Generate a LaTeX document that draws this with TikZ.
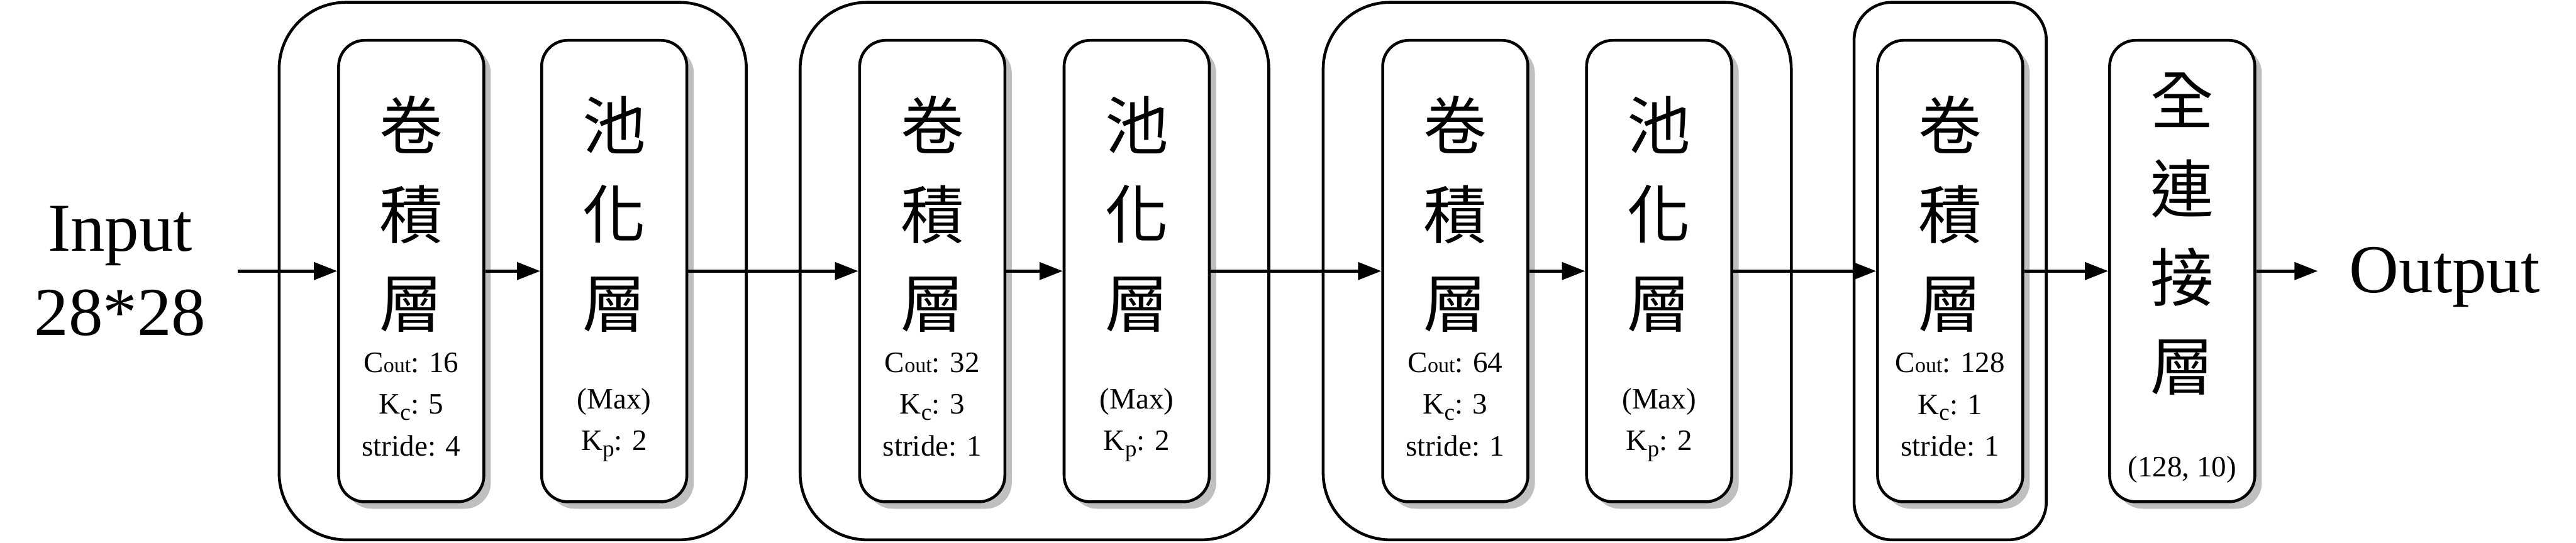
\documentclass[tikz,border=0pt]{standalone}
\usepackage{fontspec}
\setmainfont{Liberation Serif}
\newfontfamily\cjk{Noto Sans CJK TC}
\usepackage{tikz}
\usetikzlibrary{positioning}
\usetikzlibrary{arrows.meta}
\usetikzlibrary{shadows}
\usetikzlibrary{fit}

\tikzset{
    layer/.style={draw, line width=1.4pt, rounded corners=4.5mm, fill=white,
        minimum width=2.5cm, minimum height=7.95cm,
        drop shadow={shadow xshift=1.2mm, shadow yshift=-1.2mm, fill=black!25, opacity=1}},
    group/.style={draw, line width=1.4pt, rounded corners=11.5mm, inner xsep=1cm, inner ysep=6.3mm},
    layername/.style={font=\cjk\fontsize{31}{43.5}\selectfont, align=center, inner sep=0pt},
    layerinfo/.style={font=\fontsize{14.5}{20.5}\selectfont, align=center, inner sep=0pt},
    io/.style={font=\fontsize{33.6}{41}\selectfont, align=center, inner xsep=5.4mm},
    arrow/.style={-{Triangle[length=4mm,width=3mm]}, line width=1.4pt}
}
\newcommand{\cout}{C{\fontsize{10.5}{12}\selectfont out}}
\newcommand{\ksub}[1]{K\raisebox{-0.45ex}{\fontsize{11.5}{12}\selectfont #1}}

\begin{document}
\begin{tikzpicture}
    \useasboundingbox (0,0) rectangle (44.35,9.35);

    % layers
    \node[layer] (c1) at (7.08,4.68) {};
    \node[layer] (p1) at (10.575,4.68) {};
    \node[layer] (c2) at (16.05,4.68) {};
    \node[layer] (p2) at (19.57,4.68) {};
    \node[layer] (c3) at (25.055,4.68) {};
    \node[layer] (p3) at (28.565,4.68) {};
    \node[layer] (c4) at (33.575,4.68) {};
    \node[layer] (fc) at (37.57,4.68) {};

    % layer names
    \node[layername] (c1n) at ([yshift=9.8mm]c1.center) {卷\\積\\層};
    \node[layername] (p1n) at ([yshift=9.8mm]p1.center) {池\\化\\層};
    \node[layername] (c2n) at ([yshift=9.8mm]c2.center) {卷\\積\\層};
    \node[layername] (p2n) at ([yshift=9.8mm]p2.center) {池\\化\\層};
    \node[layername] (c3n) at ([yshift=9.8mm]c3.center) {卷\\積\\層};
    \node[layername] (p3n) at ([yshift=9.8mm]p3.center) {池\\化\\層};
    \node[layername] (c4n) at ([yshift=9.8mm]c4.center) {卷\\積\\層};
    \node[layername] (fcn) at ([yshift=6.4mm]fc.center) {全\\連\\接\\層};

    % layer settings
    \node[layerinfo] (c1i) at ([yshift=-23mm]c1.center) {\cout: 16\\\ksub{c}: 5\\stride: 4};
    \node[layerinfo] (p1i) at ([yshift=-26.5mm]p1.center) {(Max)\\\ksub{p}: 2};
    \node[layerinfo] (c2i) at ([yshift=-23mm]c2.center) {\cout: 32\\\ksub{c}: 3\\stride: 1};
    \node[layerinfo] (p2i) at ([yshift=-26.5mm]p2.center) {(Max)\\\ksub{p}: 2};
    \node[layerinfo] (c3i) at ([yshift=-23mm]c3.center) {\cout: 64\\\ksub{c}: 3\\stride: 1};
    \node[layerinfo] (p3i) at ([yshift=-26.5mm]p3.center) {(Max)\\\ksub{p}: 2};
    \node[layerinfo] (c4i) at ([yshift=-23mm]c4.center) {\cout: 128\\\ksub{c}: 1\\stride: 1};
    \node[layerinfo] (fci) at ([yshift=-34.2mm]fc.center) {(128, 10)};

    % blocks
    \node[group, fit=(c1)(p1)] (g1) {};
    \node[group, fit=(c2)(p2)] (g2) {};
    \node[group, fit=(c3)(p3)] (g3) {};
    \node[group, fit=(c4), inner xsep=3.8mm, rounded corners=6.5mm] (g4) {};

    % input and output
    \node[io] (in) at (2.07,4.68) {Input\\28*28};
    \node[io] (out) at (42.09,4.57) {Output};

    \draw[arrow] (in.east) -- (c1.west);
    \draw[arrow] (c1) -- (p1);
    \draw[arrow] (p1) -- (c2);
    \draw[arrow] (c2) -- (p2);
    \draw[arrow] (p2) -- (c3);
    \draw[arrow] (c3) -- (p3);
    \draw[arrow] (p3) -- (c4);
    \draw[arrow] (c4) -- (fc);
    \draw[arrow] (fc.east) -- (fc.east -| out.west);
\end{tikzpicture}
\end{document}
